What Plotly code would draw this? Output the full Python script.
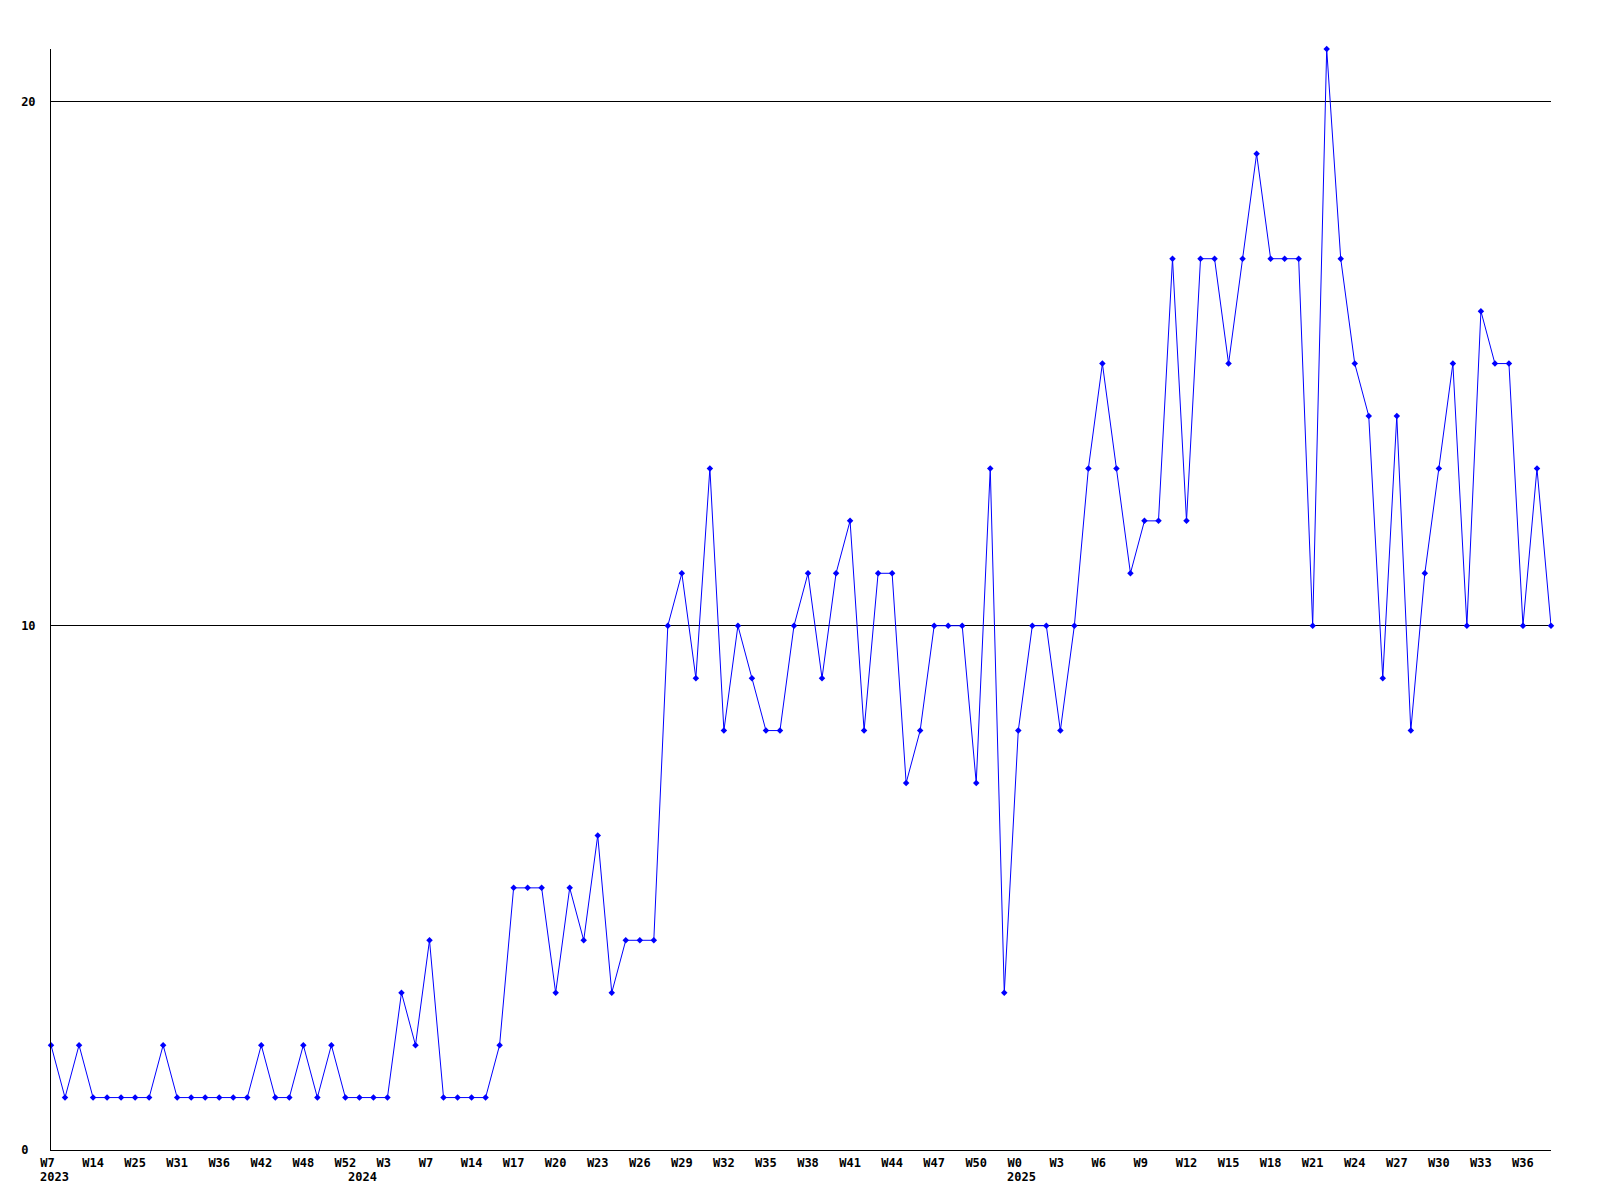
import plotly.graph_objects as go

# ---- data ----
values = [2, 1, 2, 1, 1, 1, 1, 1, 2, 1, 1, 1, 1, 1, 1, 2, 1, 1, 2, 1,
          2, 1, 1, 1, 1, 3, 2, 4, 1, 1, 1, 1, 2, 5, 5, 5, 3, 5, 4, 6,
          3, 4, 4, 4, 10, 11, 9, 13, 8, 10, 9, 8, 8, 10, 11, 9, 11, 12, 8, 11,
          11, 7, 8, 10, 10, 10, 7, 13, 3, 8, 10, 10, 8, 10, 13, 15, 13, 11, 12, 12,
          17, 12, 17, 17, 15, 17, 19, 17, 17, 17, 10, 21, 17, 15, 14, 9, 14, 8, 11, 13,
          15, 10, 16, 15, 15, 10, 13, 10]

tick_labels = ["W7", "W14", "W25", "W31", "W36", "W42", "W48", "W52", "W3", "W7",
               "W14", "W17", "W20", "W23", "W26", "W29", "W32", "W35", "W38", "W41",
               "W44", "W47", "W50", "W0", "W3", "W6", "W9", "W12", "W15", "W18",
               "W21", "W24", "W27", "W30", "W33", "W36"]
tick_step = 3

year_labels = ["2023", "2024", "2025"]
year_start_index = [0, 22, 69]

y_ticks = [0, 10, 20]

# ---- figure ----
x = list(range(len(values)))
tickvals = [i * tick_step for i in range(len(tick_labels))]
ticktext = [t + "\u00a0" * (3 - len(t)) for t in tick_labels]

FONT = dict(family="DejaVu Sans Mono", size=12, color="black")

fig = go.Figure()
fig.add_trace(go.Scatter(
    x=x, y=values, mode="lines+markers",
    line=dict(color="#0000FF", width=1),
    marker=dict(symbol="diamond", size=5, color="#0000FF"),
    cliponaxis=False, showlegend=False,
))

for lbl, idx in zip(year_labels, year_start_index):
    fig.add_annotation(
        x=idx, y=0, xref="x", yref="y", text="<b>" + lbl + "</b>",
        showarrow=False, xanchor="left", yanchor="top",
        xshift=-13, yshift=-18, font=FONT,
    )

# page body has an 8px margin, so margins are offset to land the plot area
fig.update_layout(
    template="none",
    width=1600, height=1200,
    margin=dict(l=43, r=57, t=41, b=58, autoexpand=False),
    paper_bgcolor="white", plot_bgcolor="white",
    font=FONT,
)
fig.update_xaxes(
    range=[0, len(values) - 1], automargin=False,
    tickmode="array", tickvals=tickvals,
    ticktext=["<b>" + t + "</b>" for t in ticktext],
    showgrid=False, zeroline=False,
    showline=True, linecolor="black", linewidth=1,
    ticks="", ticklabelstandoff=2,
)
fig.update_yaxes(
    range=[0, 21], automargin=False,
    tickmode="array", tickvals=y_ticks,
    ticktext=["<b>" + (str(v) + "\u00a0" * (2 - len(str(v)))) + "</b>" for v in y_ticks],
    showgrid=True, gridcolor="black", gridwidth=1,
    zeroline=False,
    showline=True, linecolor="black", linewidth=1,
    ticks="", ticklabelstandoff=12,
)

fig.write_html("out.html")
